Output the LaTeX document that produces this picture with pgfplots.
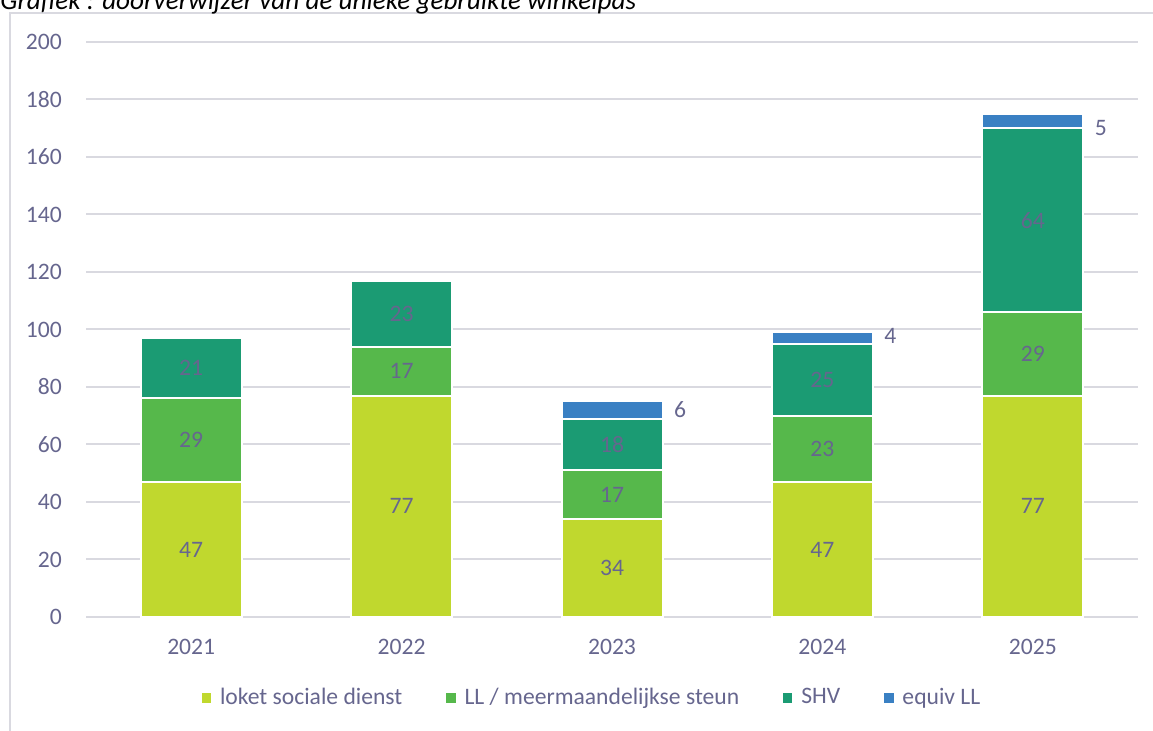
\documentclass[border=0pt]{standalone}
\usepackage{fontspec}
\setmainfont{Carlito}
\usepackage{pgfplots}
\usepackage{pgfplotstable}
\pgfplotsset{compat=1.18}
\definecolor{txt}{RGB}{102,102,142}
\definecolor{gridc}{RGB}{217,217,224}
\definecolor{cLoket}{RGB}{192,216,46}
\definecolor{cLL}{RGB}{86,184,75}
\definecolor{cSHV}{RGB}{27,155,115}
\definecolor{cEq}{RGB}{58,128,195}
\newcommand{\fs}{\fontsize{11.8bp}{14bp}\selectfont}

\pgfplotstableread{
x y dx dy
0 47 0 0
1 77 0 0
2 34 0 0
3 47 0 0
4 77 0 0
}\loket
\pgfplotstableread{
x y dx dy
0 29 0 0
1 17 0 0
2 17 0 0
3 23 0 0
4 29 0 0
}\ll
\pgfplotstableread{
x y dx dy
0 21 0 0
1 23 0 0
2 18 0 0
3 25 0 0
4 64 0 0
}\shv
\pgfplotstableread{
x y dx dy
0 0 0 0
1 0 0 0
2 6 34 0
3 4 34 1
4 5 34 -3.5
}\equiv

\begin{document}
\fs
\begin{tikzpicture}
\begin{axis}[
  at={(0,0)}, anchor=south west,
  scale only axis,
  width=526bp, height=287.5bp,
  ybar stacked, bar width=50.5bp,
  xmin=-0.5, xmax=4.5, ymin=0, ymax=200,
  ytick={0,20,...,200},
  xtick={0,1,2,3,4},
  xticklabels={2021,2022,2023,2024,2025},
  extra x ticks={-0.5,0.5,1.5,2.5,3.5,4.5},
  extra x tick labels={},
  extra x tick style={major tick length=6.5bp, tick style={gridc, line width=1bp}, tick align=outside, grid=none},
  major x tick style={draw=none},
  ymajorgrids, grid style={gridc, line width=1bp},
  axis line style={draw=none},
  axis x line*=bottom,
  x axis line style={draw=gridc, line width=1bp},
  y axis line style={draw=none},
  ytick style={draw=none},
  tick label style={text=txt, font=\fs},
  /pgf/number format/assume math mode=true,
  yticklabel style={xshift=-8bp},
  xticklabel style={yshift=-7bp},
  nodes near coords,
  visualization depends on={\thisrow{dx} \as \rawdx},
  visualization depends on={\thisrow{dy} \as \rawdy},
  every node near coord/.append style={text=txt, font=\fs, anchor=center, xshift=\rawdx bp, yshift=\rawdy bp},
  legend style={draw=none, fill=none, legend columns=-1, at={(0.482,-0.141)}, anchor=center,
     font=\fs, text=txt,
     /tikz/every even column/.append style={column sep=20bp},
     /tikz/every odd column/.append style={column sep=2.5bp}},
  legend image code/.code={\fill[#1,draw=none] (0bp,-2.3bp) rectangle (4.6bp,2.3bp);},
  clip=false,
]
\addplot[fill=cLoket, draw=white, line width=1bp] table[x=x,y=y] {\loket};
\addplot[fill=cLL, draw=white, line width=1bp] table[x=x,y=y] {\ll};
\addplot[fill=cSHV, draw=white, line width=1bp] table[x=x,y=y] {\shv};
\addplot[fill=cEq, draw=white, line width=1bp] table[x=x,y=y] {\equiv};
\legend{loket sociale dienst, LL / meermaandelijkse steun, SHV, equiv LL}
\end{axis}
\draw[gridc, line width=1bp] (-38bp,-70bp) -- (-38bp,302bp) -- (540bp,302bp);
\node[anchor=base west, inner sep=0pt, text=black, font=\itshape\fontsize{13.6bp}{16bp}\selectfont] at (-43bp,303.5bp) {Grafiek : doorverwijzer van de unieke gebruikte winkelpas};
\pgfresetboundingbox
\useasboundingbox (-43bp,-57bp) rectangle (533.5bp,308.5bp);
\end{tikzpicture}
\end{document}
